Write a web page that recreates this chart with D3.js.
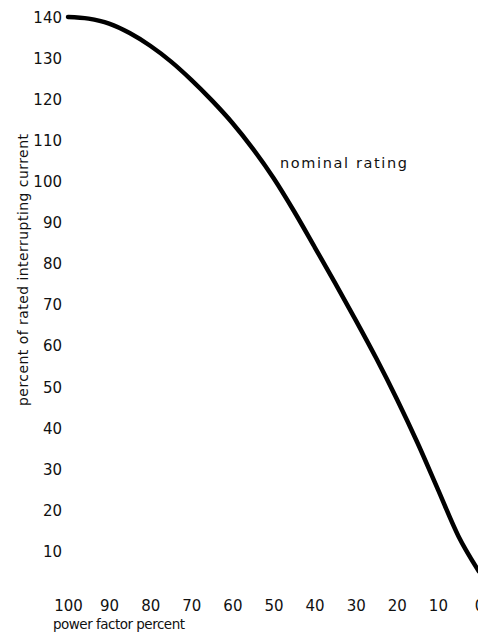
<!DOCTYPE html>
<html>
<head>
<meta charset="utf-8">
<script src="https://cdn.jsdelivr.net/npm/d3@7"></script>
<style>
  body { margin: 0; background: #fff; }
  svg text { font-family: "DejaVu Sans", sans-serif; fill: #111; }
</style>
</head>
<body>
<svg id="chart" width="478" height="635"></svg>
<script>
// power factor (percent) vs percent of rated interrupting current
var powerFactor = [100, 95, 90, 85, 80, 75, 70, 65, 60, 55, 50, 45, 40, 35, 30, 25, 20, 15, 10, 5, 0];
var currentPct  = [140, 139.6, 138.4, 136.1, 133, 129.2, 124.7, 119.7, 114.2, 107.9, 100.8, 92.7, 84, 75.2, 66.2, 56.9, 47, 36.4, 25, 13.6, 5];
var yTicks = [10, 20, 30, 40, 50, 60, 70, 80, 90, 100, 110, 120, 130, 140];
var xTicks = [100, 90, 80, 70, 60, 50, 40, 30, 20, 10, 0];

var svg = d3.select('#chart');

// scales: 100 -> x 68, 0 -> x 479; 0 -> y 592, 140 -> y 17
var x = d3.scaleLinear().domain([100, 0]).range([68, 479]);
var y = d3.scaleLinear().domain([0, 140]).range([592, 17]);

var yAxis = d3.axisLeft(y).tickValues(yTicks).tickSize(0).tickPadding(0);
svg.append('g')
    .attr('transform', 'translate(62,0)')
    .call(yAxis)
    .call(function(g) { g.select('.domain').remove(); })
    .selectAll('text')
    .attr('dy', '0.36em');

var xAxis = d3.axisBottom(x).tickValues(xTicks).tickSize(0).tickPadding(0);
svg.append('g')
    .attr('transform', 'translate(0,600)')
    .call(xAxis)
    .call(function(g) { g.select('.domain').remove(); })
    .selectAll('text')
    .attr('dy', '0.73em');

svg.selectAll('.tick text')
    .attr('font-family', '"DejaVu Sans", sans-serif')
    .attr('font-size', 15)
    .attr('fill', '#111');

var pts = powerFactor.map(function(p, i) { return [p, currentPct[i]]; });

var line = d3.line()
    .x(function(d) { return x(d[0]); })
    .y(function(d) { return y(d[1]); })
    .curve(d3.curveMonotoneX);

svg.append('path')
    .datum(pts)
    .attr('d', line)
    .attr('fill', 'none')
    .attr('stroke', '#000')
    .attr('stroke-width', 4.5)
    .attr('stroke-linecap', 'round');

svg.append('text')
    .attr('x', 280)
    .attr('y', 168)
    .attr('font-size', 14.5)
    .attr('textLength', 127)
    .attr('lengthAdjust', 'spacing')
    .text('nominal rating');

svg.append('text')
    .attr('transform', 'translate(28,270) rotate(-90)')
    .attr('text-anchor', 'middle')
    .attr('font-size', 14)
    .attr('textLength', 272)
    .attr('lengthAdjust', 'spacing')
    .text('percent of rated interrupting current');

svg.append('text')
    .attr('x', 53)
    .attr('y', 629)
    .attr('font-size', 13.5)
    .attr('textLength', 132)
    .attr('lengthAdjust', 'spacing')
    .text('power factor percent');
</script>
</body>
</html>
